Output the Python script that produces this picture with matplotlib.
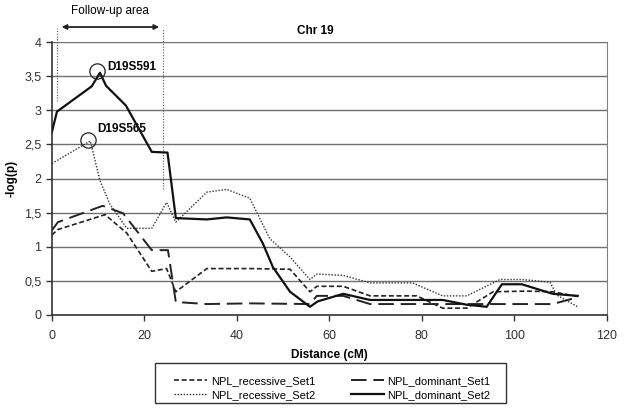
import matplotlib
matplotlib.use("Agg")
import matplotlib.pyplot as plt
from matplotlib.patches import Rectangle
from matplotlib.ticker import FuncFormatter

plt.rcParams["font.family"] = ["Liberation Sans", "DejaVu Sans"]

# NPL_recessive_Set1 (short dash)
rec1_x = [0, 1.2, 11.5, 16.2, 21.6, 24.8, 26.8, 33.5, 42.8, 51.5, 55.8, 57.3, 63, 68.8, 78.9, 84.5, 89.7, 95.4, 102.7, 108.3, 113.7]
rec1_y = [1.17, 1.25, 1.47, 1.20, 0.64, 0.68, 0.34, 0.68, 0.68, 0.67, 0.34, 0.42, 0.42, 0.28, 0.28, 0.10, 0.10, 0.34, 0.35, 0.34, 0.27]

# NPL_recessive_Set2 (dotted)
rec2_x = [0, 8.3, 10.4, 12.5, 16.2, 21.6, 24.8, 26.8, 33.5, 37.8, 42.8, 47.1, 51.5, 55.8, 57.3, 63, 68.8, 78, 84.5, 89.7, 96.9, 101.8, 107.7, 109.2, 113.7]
rec2_y = [2.22, 2.55, 1.97, 1.63, 1.27, 1.27, 1.65, 1.36, 1.80, 1.84, 1.71, 1.12, 0.85, 0.52, 0.60, 0.58, 0.47, 0.47, 0.28, 0.28, 0.52, 0.52, 0.48, 0.29, 0.12]

# NPL_dominant_Set1 (long dash)
dom1_x = [0, 1.3, 11.0, 15.4, 21.6, 25.1, 26.8, 33.5, 42.8, 55.8, 57.3, 63, 68.8, 84.5, 96.9, 108.3, 113.7]
dom1_y = [1.24, 1.36, 1.60, 1.49, 0.95, 0.95, 0.19, 0.16, 0.17, 0.16, 0.28, 0.28, 0.16, 0.16, 0.16, 0.16, 0.26]

# NPL_dominant_Set2 (solid)
dom2_x = [0, 1.1, 8.6, 10.4, 11.7, 16, 21.6, 25, 26.8, 33.5, 37.8, 42.8, 45.6, 47.8, 51.5, 55.8, 57.5, 63, 68.8, 84.5, 89.7, 94, 97.3, 101.6, 108.3, 113.7]
dom2_y = [2.68, 2.98, 3.35, 3.55, 3.36, 3.07, 2.39, 2.38, 1.42, 1.40, 1.43, 1.40, 1.05, 0.70, 0.34, 0.12, 0.20, 0.31, 0.22, 0.22, 0.15, 0.12, 0.45, 0.45, 0.31, 0.28]

y_ticks = [0, 0.5, 1, 1.5, 2, 2.5, 3, 3.5, 4]
x_ticks = [0, 20, 40, 60, 80, 100, 120]

fig = plt.figure(figsize=(6.25, 4.08), dpi=100)
ax = fig.add_axes([0.083, 0.228, 0.888, 0.669])

for y in y_ticks[1:]:
    ax.axhline(y, color="#707070", lw=1.0, zorder=1)

ax.plot(rec1_x, rec1_y, color="#222222", lw=1.2, dashes=(3, 1.6), label="NPL_recessive_Set1", zorder=3)
ax.plot(rec2_x, rec2_y, color="#333333", lw=1.0, dashes=(1, 1.2), label="NPL_recessive_Set2", zorder=3)
ax.plot(dom1_x, dom1_y, color="#222222", lw=1.4, dashes=(8, 3.5), label="NPL_dominant_Set1", zorder=3)
ax.plot(dom2_x, dom2_y, color="#111111", lw=1.6, label="NPL_dominant_Set2", zorder=4)

ax.set_xlim(0, 120)
ax.set_ylim(0, 4)
ax.set_xticks(x_ticks)
ax.set_yticks(y_ticks)
ax.yaxis.set_major_formatter(FuncFormatter(lambda v, p: f"{v:g}".replace(".", ",")))
ax.tick_params(labelsize=9, direction="out", length=4, width=1, colors="#333333")
ax.tick_params(axis="x", pad=7)
for s in ["left", "bottom"]:
    ax.spines[s].set_color("#333333")
    ax.spines[s].set_linewidth(1.2)
ax.spines["right"].set_color("#808080")
ax.spines["top"].set_visible(False)

ax.set_xlabel("Distance (cM)", fontsize=8.5, fontweight="bold", labelpad=5)
ax.set_ylabel("-log(p)", fontsize=8.5, fontweight="bold", labelpad=5)
ax.text(57, 4.08, "Chr 19", fontsize=8.5, fontweight="bold", ha="center", va="bottom")

# follow-up area
ax.plot([1, 1], [3.14, 4.2], color="#555555", lw=0.8, ls=(0, (1, 1.5)), clip_on=False)
ax.plot([24, 24], [1.84, 4.2], color="#555555", lw=0.8, ls=(0, (1, 1.5)), clip_on=False)
ax.annotate("", xy=(23.8, 4.22), xytext=(1.5, 4.22), annotation_clip=False,
            arrowprops=dict(arrowstyle="<|-|>", color="#222222", lw=1.3, mutation_scale=7))
ax.text(12.5, 4.46, "Follow-up area", fontsize=8.5, ha="center", va="center")

# markers of interest
ax.plot([9.7], [3.58], marker="o", ms=11, mfc="none", mec="#222222", mew=0.9, clip_on=False, zorder=5)
ax.plot([7.8], [2.57], marker="o", ms=11, mfc="none", mec="#222222", mew=0.9, zorder=5)
ax.text(11.9, 3.63, "D19S591", fontsize=8.5, fontweight="bold", va="center")
ax.text(9.9, 2.73, "D19S565", fontsize=8.5, fontweight="bold", va="center")

# legend with its own box
fig.patches.append(Rectangle((155 / 625, 1 - 403 / 408), 351 / 625, 40 / 408,
                             transform=fig.transFigure, fill=False, ec="#333333", lw=1.0))
ax.legend(ncol=2, loc="upper left", bbox_to_anchor=(0.259, 0.108), bbox_transform=fig.transFigure,
          fontsize=8, frameon=False, handlelength=3, columnspacing=3.2,
          borderpad=0.6, labelspacing=0.35, handletextpad=0.3)

fig.savefig("out.png", dpi=100)
